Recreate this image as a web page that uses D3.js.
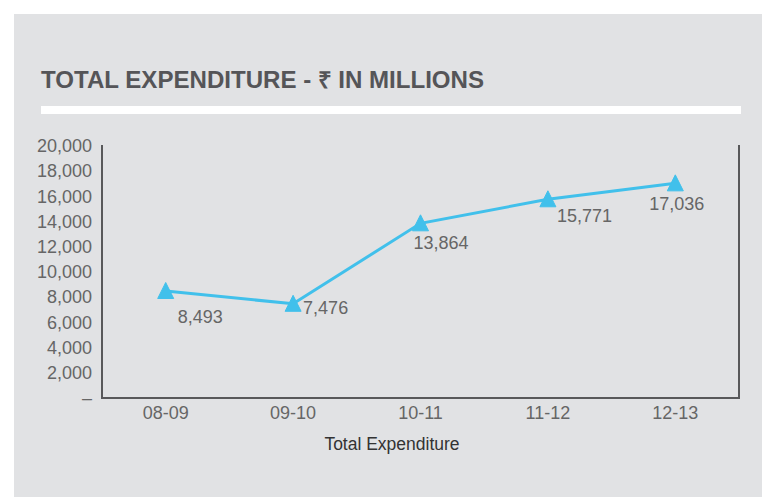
<!DOCTYPE html>
<html>
<head>
<meta charset="utf-8">
<script src="https://cdn.jsdelivr.net/npm/d3@7"></script>
<style>
  body { margin: 0; background: #fff; }
  text { font-family: "Liberation Sans", Arial, Helvetica, sans-serif; }
</style>
</head>
<body>
<svg id="chart" width="762" height="497"></svg>
<script>
// datos
const years = ["08-09", "09-10", "10-11", "11-12", "12-13"];
const expenditure = [8493, 7476, 13864, 15771, 17036];
const yTicks = [0, 2000, 4000, 6000, 8000, 10000, 12000, 14000, 16000, 18000, 20000];
const titleText = "TOTAL EXPENDITURE - \u20B9 IN MILLIONS";
const axisTitle = "Total Expenditure";

// desplazamiento de etiquetas (como en el original, movidas a mano)
const labelDx = [12, 10, -7, 9, -26];
const labelDy = [26, 4, 19, 16, 20];

const svg = d3.select("#chart");

// panel gris
svg.append("rect")
  .attr("x", 14).attr("y", 14)
  .attr("width", 748).attr("height", 483)
  .attr("fill", "#e1e2e4");

// titulo
svg.append("text")
  .attr("x", 41).attr("y", 88)
  .attr("font-size", 23)
  .attr("font-weight", "bold")
  .attr("fill", "#555558")
  .attr("textLength", 443)
  .attr("lengthAdjust", "spacingAndGlyphs")
  .text(titleText);

svg.append("rect")
  .attr("x", 41).attr("y", 106)
  .attr("width", 700).attr("height", 8)
  .attr("fill", "#fff");

const mLeft = 102, mRight = 739, mTop = 146, mBottom = 398;

const x = d3.scaleBand().domain(years).range([mLeft, mRight]);
const y = d3.scaleLinear().domain([0, 20000]).range([mBottom, mTop]);

// ejes
const fmt = d => d === 0 ? "\u2013" : d3.format(",")(d);

const yAxis = svg.append("g")
  .attr("transform", `translate(${mLeft},0)`)
  .call(d3.axisLeft(y).tickValues(yTicks).tickFormat(fmt).tickSize(0).tickPadding(10));
yAxis.select(".domain").remove();
yAxis.selectAll("text")
  .attr("font-size", 18)
  .attr("font-family", "Liberation Sans, Arial, sans-serif")
  .attr("fill", "#666");

const xAxis = svg.append("g")
  .attr("transform", `translate(0,${mBottom})`)
  .call(d3.axisBottom(x).tickSize(0).tickPadding(8));
xAxis.select(".domain").remove();
xAxis.selectAll("text")
  .attr("font-size", 18)
  .attr("font-family", "Liberation Sans, Arial, sans-serif")
  .attr("fill", "#666");

// marco (izquierda, abajo, derecha)
svg.append("path")
  .attr("d", `M${mLeft},${mTop - 1}V${mBottom}H${mRight}V${mTop - 1}`)
  .attr("fill", "none")
  .attr("stroke", "#58585a")
  .attr("stroke-width", 2);

svg.append("text")
  .attr("x", 392)
  .attr("y", 450)
  .attr("text-anchor", "middle")
  .attr("font-size", 17.5)
  .attr("fill", "#333")
  .text(axisTitle);

// linea
const pts = years.map((yr, i) => ({ yr, v: expenditure[i], i }));
const cx = d => x(d.yr) + x.bandwidth() / 2;

svg.append("path")
  .datum(pts)
  .attr("fill", "none")
  .attr("stroke", "#41c0eb")
  .attr("stroke-width", 3)
  .attr("d", d3.line().x(cx).y(d => y(d.v)));

svg.selectAll(".marker")
  .data(pts)
  .enter()
  .append("path")
  .attr("class", "marker")
  .attr("transform", d => `translate(${cx(d)},${y(d.v)})`)
  .attr("d", "M0,-8.5L8,7.5L-8,7.5Z")
  .attr("fill", "#41c0eb")
  .attr("stroke", "#41c0eb")
  .attr("stroke-linejoin", "round")
  .attr("stroke-width", 1);

svg.selectAll(".lbl")
  .data(pts)
  .enter()
  .append("text")
  .attr("class", "lbl")
  .attr("x", d => cx(d) + labelDx[d.i])
  .attr("y", d => y(d.v) + labelDy[d.i])
  .attr("dy", "0.35em")
  .attr("font-size", 18)
  .attr("fill", "#666")
  .text(d => d3.format(",")(d.v));
</script>
</body>
</html>
